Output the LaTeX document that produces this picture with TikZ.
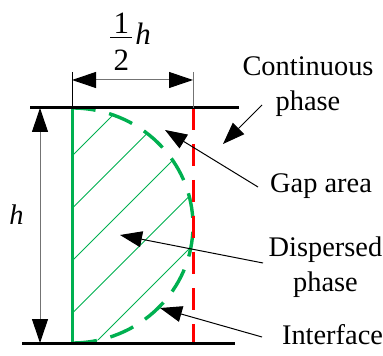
\documentclass[tikz,border=0pt]{standalone}
\usepackage{amsmath}
\usepackage{fontspec}
\setmainfont{Liberation Serif}
\usetikzlibrary{arrows.meta}
\definecolor{phasegreen}{RGB}{0,176,80}
\definecolor{ifacered}{RGB}{255,0,0}
\tikzstyle{txt} = [font=\fontsize{14.2}{17.8}\selectfont, inner sep=0pt, align=center]
\tikzstyle{wall} = [line width=1.5pt, black]
\tikzstyle{dimline} = [line width=0.5pt, black!55, {Triangle[length=12pt,width=8pt,color=black]}-{Triangle[length=12pt,width=8pt,color=black]}]
\tikzstyle{extline} = [line width=0.5pt, black!55]
\tikzstyle{leader} = [line width=0.5pt, black, -{Triangle[length=11pt,width=8pt]}]
\tikzstyle{drop} = [line width=1.7pt, phasegreen, dash pattern=on 12.5pt off 7pt]
\tikzstyle{iface} = [line width=1.5pt, ifacered, dash pattern=on 11pt off 7pt]
\tikzstyle{hatch} = [line width=0.4pt, phasegreen]

\begin{document}
\begin{tikzpicture}[x=0.5pt, y=-0.5pt]
    \useasboundingbox (0,0) rectangle (383,356);
    \coordinate (tl) at (72,108);
    \coordinate (bl) at (72,343);
    \coordinate (tr) at (193,108);
    \coordinate (br) at (193,343);

    % hatched drop
    \begin{scope}
        \clip (bl) arc[start angle=90, end angle=-90, x radius=121, y radius=117.5] -- cycle;
        \foreach \c in {103.5,156,...,366} {
            \draw[hatch] (72,\c) -- ++(300,-300);
        }
    \end{scope}
    \draw[drop] (bl) arc[start angle=90, end angle=-90, x radius=121, y radius=117.5];
    \draw[line width=1.5pt, phasegreen] (tl) -- (bl);
    \draw[iface] (tr) -- (br);

    \draw[wall] (30,108) -- (239,108);
    \draw[wall] (22,343) -- (235,343);

    % dimensions
    \coordinate (el) at (72,72);
    \coordinate (er) at (193,72);
    \draw[line width=0.5pt] (el) -- (tl);
    \draw[extline] (er) -- (tr);
    \draw[dimline] (72,80) -- (193,80);
    \draw[dimline] (40,108) -- (40,343);
    \node (half) [txt, font=\fontsize{15.5}{18}\selectfont, anchor=base west] at (110,45)
        {$\vcenter{\kern4pt\hbox to 11pt{\hss1\hss}\kern2pt\hrule\kern6pt\hbox to 11pt{\hss2\hss}}$\kern1.5pt\textit{h}};
    \node (hlab) [txt, anchor=base] at (16.5,225) {\textit{h}};

    % labels
    \node (cont) [txt] at (308,86.5) {Continuous\\phase};
    \node (gap) [txt, anchor=base] at (321,193) {Gap area};
    \node (disp) [txt] at (325.5,267) {Dispersed\\phase};
    \node (ifc) [txt, anchor=base] at (332.5,344) {Interface};

    \coordinate (cont-t) at (262,105);
    \coordinate (cont-h) at (223,144);
    \coordinate (gap-t) at (258,187);
    \coordinate (gap-h) at (165,130);
    \coordinate (disp-t) at (263,263);
    \coordinate (disp-h) at (120,235);
    \coordinate (ifc-t) at (262,337);
    \coordinate (ifc-h) at (160,308);
    \foreach \i in {cont, gap, disp, ifc} {
        \draw[leader] (\i-t) -- (\i-h);
    }
\end{tikzpicture}
\end{document}
